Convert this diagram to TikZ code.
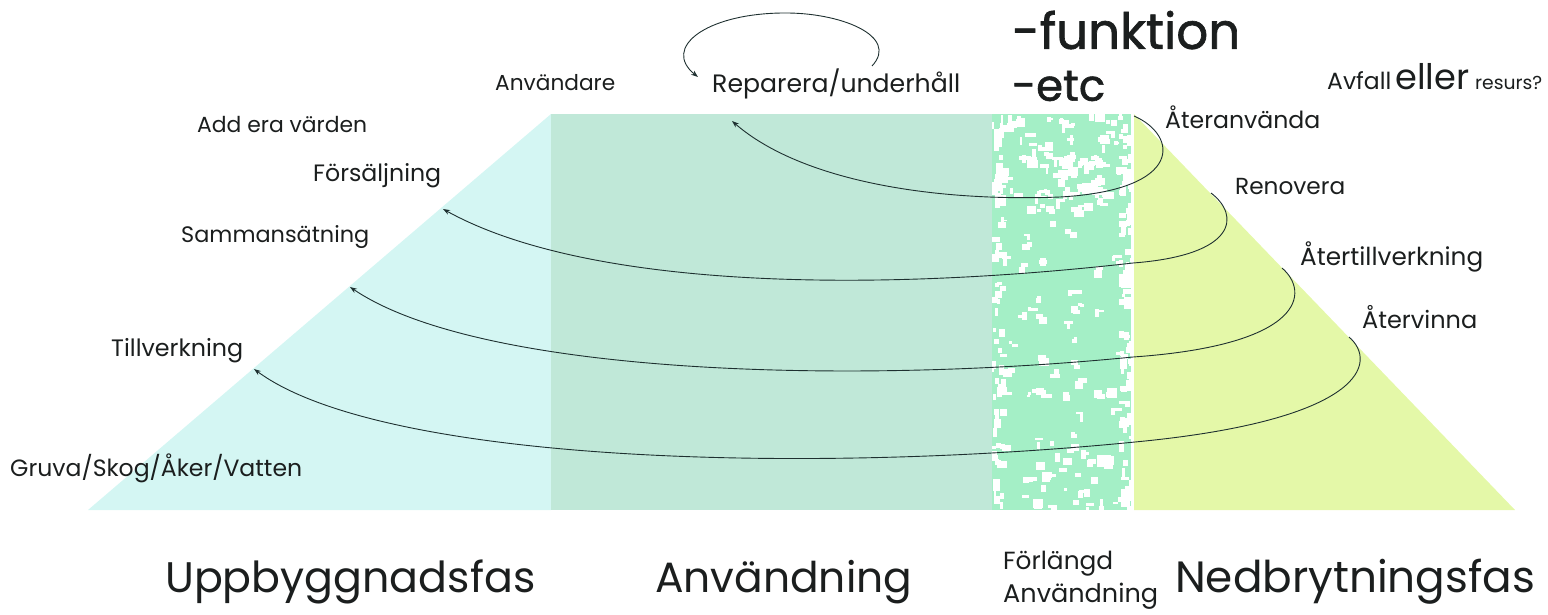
\documentclass[tikz,border=0pt]{standalone}
\usepackage{fontspec}
\setmainfont{Poppins}
\newfontfamily\medfont{Poppins}[FakeBold=1.3]
\usetikzlibrary{arrows.meta}
\definecolor{cyanfill}{HTML}{D4F6F3}
\definecolor{usefill}{HTML}{C0E8D8}
\definecolor{mintfill}{HTML}{A4EFC6}
\definecolor{yellowfill}{HTML}{E4F8A8}
\definecolor{ink}{HTML}{1B1E1E}
\definecolor{lineink}{HTML}{1E3030}
\newcommand{\fitw}[2]{\resizebox{#1pt}{!}{#2}}
\begin{document}
\begin{tikzpicture}[x=1pt,y=-1pt,
  lbl/.style={inner sep=0pt, text=ink, anchor=west},
  flow/.style={draw=lineink, line width=0.9pt, -{Stealth[length=7pt,width=5pt]}}]
\useasboundingbox (0,0) rectangle (1548,614);
% regions
\fill[cyanfill] (88,510) -- (551,114) -- (551,510) -- cycle;
\fill[usefill] (551,114) rectangle (992,510);
\fill[mintfill] (992,114) rectangle (1135,510);
\begin{scope}
\clip (992,114) rectangle (1135,510);
\pgfmathsetseed{11}
% general blobs
\foreach \i in {1,...,85}{
  \pgfmathsetmacro{\xx}{995+135*rnd}
  \pgfmathsetmacro{\yy}{114+396*rnd}
  \pgfmathsetmacro{\ww}{3+8*rnd}
  \pgfmathsetmacro{\hh}{3+7*rnd}
  \pgfmathsetmacro{\dx}{-5+10*rnd}
  \pgfmathsetmacro{\dy}{-5+10*rnd}
  \fill[white] (\xx,\yy) rectangle ++(\ww,\hh);
  \fill[white] (\xx+\dx,\yy+\dy) rectangle ++(\hh,\ww*0.6);
}
% denser near top
\foreach \i in {1,...,45}{
  \pgfmathsetmacro{\xx}{995+135*rnd}
  \pgfmathsetmacro{\yy}{114+90*rnd}
  \pgfmathsetmacro{\ww}{3+9*rnd}
  \pgfmathsetmacro{\hh}{3+8*rnd}
  \pgfmathsetmacro{\dx}{-6+12*rnd}
  \pgfmathsetmacro{\dy}{-6+12*rnd}
  \fill[white] (\xx,\yy) rectangle ++(\ww,\hh);
  \fill[white] (\xx+\dx,\yy+\dy) rectangle ++(\hh*0.7,\ww*0.7);
}
% denser near bottom
\foreach \i in {1,...,30}{
  \pgfmathsetmacro{\xx}{995+135*rnd}
  \pgfmathsetmacro{\yy}{440+70*rnd}
  \pgfmathsetmacro{\ww}{3+8*rnd}
  \pgfmathsetmacro{\hh}{3+7*rnd}
  \fill[white] (\xx,\yy) rectangle ++(\ww,\hh);
}
% left edge speckle
\foreach \i in {1,...,60}{
  \pgfmathsetmacro{\xx}{991+10*rnd}
  \pgfmathsetmacro{\yy}{114+396*rnd}
  \pgfmathsetmacro{\ww}{2+6*rnd}
  \pgfmathsetmacro{\hh}{3+9*rnd}
  \fill[white] (\xx,\yy) rectangle ++(\ww,\hh);
}
% right edge
\foreach \i in {1,...,80}{
  \pgfmathsetmacro{\xx}{1118+14*rnd}
  \pgfmathsetmacro{\yy}{114+396*rnd}
  \pgfmathsetmacro{\ww}{3+7*rnd}
  \pgfmathsetmacro{\hh}{3+9*rnd}
  \fill[white] (\xx,\yy) rectangle ++(\ww,\hh);
}
\fill[white] (1131,114) rectangle (1135,510);
\end{scope}
\fill[yellowfill] (1134,114) -- (1515,510) -- (1134,510) -- cycle;

% labels left
\node[lbl] (add) at (197,125) {\fitw{170}{Add era värden}};
\node[lbl] (fors) at (313,176) {\fitw{128}{Försäljning}};
\node[lbl] (samm) at (181,237) {\fitw{188}{Sammansätning}};
\node[lbl] (till) at (111,351) {\fitw{132}{Tillverkning}};
\node[lbl] (gruva) at (10,468) {\fitw{292}{Gruva/Skog/Åker/Vatten}};
% top
\node[lbl] (anv) at (495,83) {\fitw{120}{Användare}};
\node[lbl] (rep) at (712,84) {\fitw{248}{Reparera/underhåll}};
\node[lbl] (funk) at (1012,30) {\fitw{228}{\medfont -funktion}};
\node[lbl] (etc) at (1012,86) {\fitw{93}{\medfont -etc}};
\node[lbl] (avf) at (1327,77) {\fitw{215}{\fontsize{20}{20}\selectfont Avfall\,\fontsize{30}{30}\selectfont eller\,\fontsize{16}{16}\selectfont resurs?}};
% right
\node[lbl] (ater) at (1165,117) {\fitw{155}{Återanvända}};
\node[lbl] (reno) at (1235,187) {\fitw{110}{Renovera}};
\node[lbl] (atert) at (1300,257) {\fitw{183}{Återtillverkning}};
\node[lbl] (aterv) at (1362,317) {\fitw{115}{Återvinna}};
% bottom
\node[lbl] (upp) at (165,582) {\fitw{370}{Uppbyggnadsfas}};
\node[lbl] (anvb) at (655,582) {\fitw{257}{Användning}};
\node[lbl] (forl) at (1003,564) {\fitw{110}{Förlängd}};
\node[lbl] (forl2) at (1003,596) {\fitw{155}{Användning}};
\node[lbl] (ned) at (1175,582) {\fitw{360}{Nedbrytningsfas}};

% connectors
\coordinate (s1) at (1134,116); \coordinate (e1) at (732,121);
\coordinate (s2) at (1211,193); \coordinate (e2) at (443,209);
\coordinate (s3) at (1282,268); \coordinate (e3) at (350,287);
\coordinate (s4) at (1349,337); \coordinate (e4) at (254,369);
\draw[flow] (s1) .. controls (1178,135) and (1185,190) .. (1060,197) .. controls (930,202) and (800,180) .. (e1);
\draw[flow] (s2) .. controls (1240,215) and (1238,255) .. (1133,263) .. controls (850,295) and (580,285) .. (e2);
\draw[flow] (s3) .. controls (1310,292) and (1305,345) .. (1133,357) .. controls (850,385) and (480,375) .. (e3);
\draw[flow] (s4) .. controls (1378,362) and (1365,420) .. (1135,442) .. controls (800,475) and (380,462) .. (e4);
% loop
\coordinate (ls) at (872,66); \coordinate (le) at (698,77);
\draw[flow] (ls) .. controls (900,36) and (840,12) .. (782,13) .. controls (705,14) and (662,48) .. (le);
\end{tikzpicture}
\end{document}
